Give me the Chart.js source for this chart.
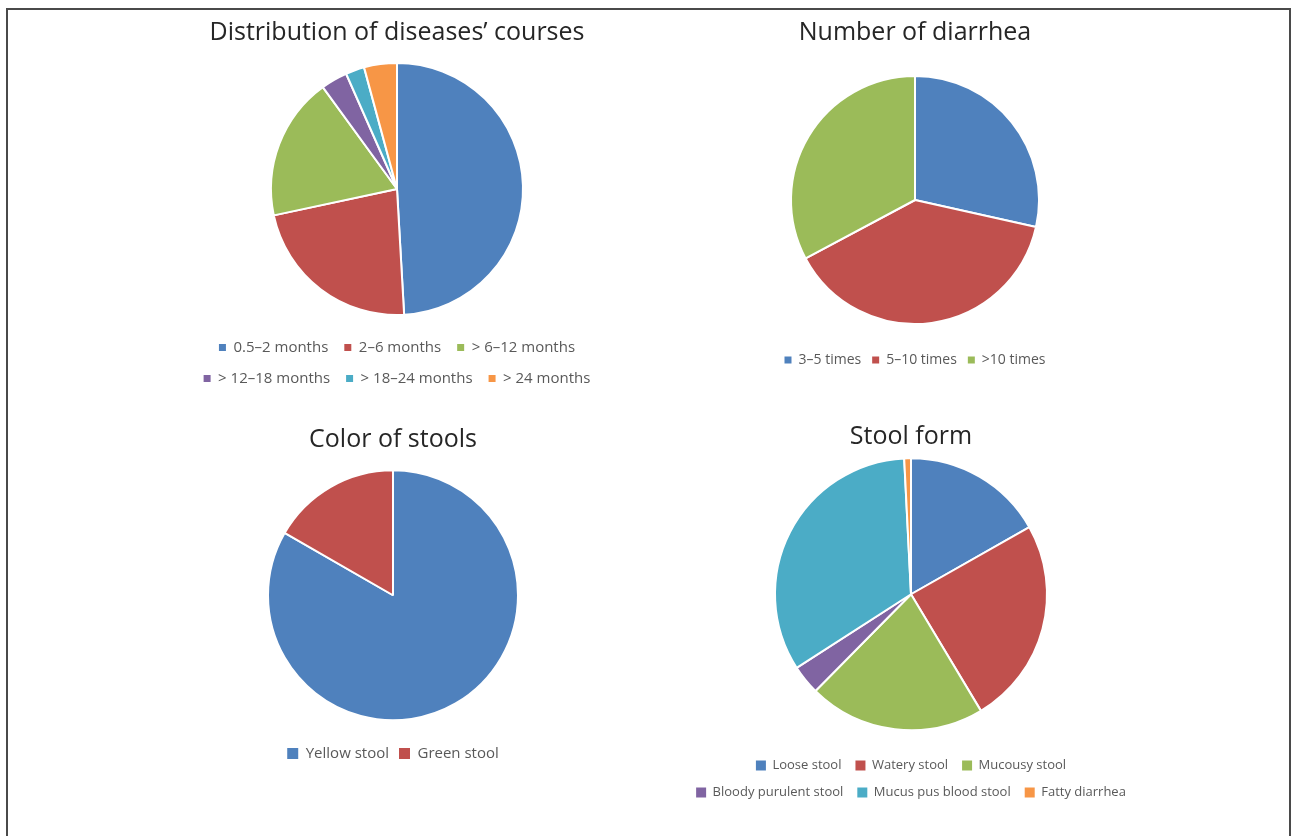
<!DOCTYPE html>
<html>
<head>
<meta charset="utf-8">
<script src="https://cdn.jsdelivr.net/npm/chart.js@4.4.1/dist/chart.umd.min.js"></script>
<style>
  html, body { margin: 0; padding: 0; background: #fff; width: 1291px; height: 836px; overflow: hidden; }
  #frame { position: absolute; left: 6px; top: 8px; width: 1281px; height: 900px; border: 2px solid #4a4a4a; }
  .box { position: absolute; }
  canvas { display: block; }
</style>
</head>
<body>
<div id="frame"></div>
<div class="box" id="b1"><canvas id="c1"></canvas></div>
<div class="box" id="b2"><canvas id="c2"></canvas></div>
<div class="box" id="b3"><canvas id="c3"></canvas></div>
<div class="box" id="b4"><canvas id="c4"></canvas></div>
<script>
// ---- data ----
const courseLabels = ['0.5\u20132 months', '2\u20136 months', '> 6\u201312 months', '> 12\u201318 months', '> 18\u201324 months', '> 24 months'];
const courseValues = [49.0, 22.5, 18.3, 3.4, 2.4, 4.2];

const diarrheaLabels = ['3\u20135 times', '5\u201310 times', '>10 times'];
const diarrheaValues = [28.5, 38.7, 32.8];

const colorLabels = ['Yellow stool', 'Green stool'];
const colorValues = [83.3, 16.7];

const formLabels = ['Loose stool', 'Watery stool', 'Mucousy stool', 'Bloody purulent stool', 'Mucus pus blood stool', 'Fatty diarrhea'];
const formValues = [16.8, 24.6, 21.0, 3.5, 33.3, 0.8];

const palette = ['#4F81BD', '#C0504D', '#9BBB59', '#8064A2', '#4BACC6', '#F79646'];

// ---- helpers ----
const FAMILY = '"Open Sans", Lato, sans-serif';
const measureCtx = document.createElement('canvas').getContext('2d');

// width of canvas so the legend breaks after `perRow` items (Chart.js row-fitting rule)
function legendCanvasWidth(labels, size, box, pad, perRow, minW) {
  measureCtx.font = size + 'px ' + FAMILY;
  const w = labels.map(t => box + size / 2 + measureCtx.measureText(t).width);
  if (perRow >= labels.length) {
    return Math.max(minW, w.reduce((a, b) => a + b, 0) + (labels.length + 1) * pad + 20);
  }
  let need = 0;
  for (let s = 0; s < labels.length; s += perRow) {
    const row = w.slice(s, s + perRow);
    need = Math.max(need, row.reduce((a, b) => a + b, 0) + (row.length + 1) * pad);
  }
  let limit = Infinity;
  for (let s = 0; s + perRow < labels.length; s += perRow) {
    const row = w.slice(s, s + perRow);
    limit = Math.min(limit, row.reduce((a, b) => a + b, 0) + (row.length + 2) * pad + w[s + perRow]);
  }
  return Math.max(minW, Math.floor((need + limit) / 2));
}

function legendLabels(chart) {
  const items = Chart.overrides.pie.plugins.legend.labels.generateLabels(chart);
  items.forEach(it => { it.lineWidth = 0; it.strokeStyle = it.fillStyle; });
  return items;
}

function makePie(id, labels, values, cfg) {
  const canvas = document.getElementById(id);
  const W = legendCanvasWidth(labels, cfg.legendFont, cfg.box, cfg.legendPad, cfg.perRow, 400);
  canvas.width = W;
  canvas.height = cfg.height;
  const box = canvas.parentNode;
  box.style.left = (cfg.cx - W / 2) + 'px';
  box.style.top = cfg.top + 'px';
  return new Chart(canvas, {
    type: 'pie',
    data: {
      labels: labels,
      datasets: [{
        data: values,
        backgroundColor: palette.slice(0, values.length),
        borderColor: '#ffffff',
        borderWidth: 2,
        radius: cfg.radius,
        clip: false
      }]
    },
    options: {
      responsive: false,
      animation: false,
      devicePixelRatio: 1,
      layout: { padding: 0 },
      plugins: {
        tooltip: { enabled: false },
        title: {
          display: true,
          text: cfg.title,
          color: '#262626',
          font: { family: FAMILY, size: 25, weight: 'normal' },
          padding: { top: cfg.titleTop, bottom: cfg.titleBottom }
        },
        legend: {
          position: 'bottom',
          labels: {
            color: '#595959',
            font: { family: FAMILY, size: cfg.legendFont },
            boxWidth: cfg.box,
            boxHeight: cfg.box,
            padding: cfg.legendPad,
            generateLabels: legendLabels
          }
        }
      }
    }
  });
}

makePie('c1', courseLabels, courseValues, {
  title: 'Distribution of diseases\u2019 courses', radius: 126, cx: 397, top: 10, height: 386,
  titleTop: 8, titleBottom: 6, legendFont: 15, box: 7, legendPad: 16, perRow: 3
});
makePie('c2', diarrheaLabels, diarrheaValues, {
  title: 'Number of diarrhea', radius: 124, cx: 915, top: 10, height: 367,
  titleTop: 8, titleBottom: 10, legendFont: 14, box: 7, legendPad: 11, perRow: 3
});
makePie('c3', colorLabels, colorValues, {
  title: 'Color of stools', radius: 125, cx: 393, top: 415, height: 356,
  titleTop: 10, titleBottom: -0.5, legendFont: 15, box: 11, legendPad: 10, perRow: 2
});
makePie('c4', formLabels, formValues, {
  title: 'Stool form', radius: 136, cx: 911, top: 412, height: 397,
  titleTop: 10, titleBottom: -8.5, legendFont: 13, box: 10, legendPad: 14, perRow: 3
});
</script>
</body>
</html>
